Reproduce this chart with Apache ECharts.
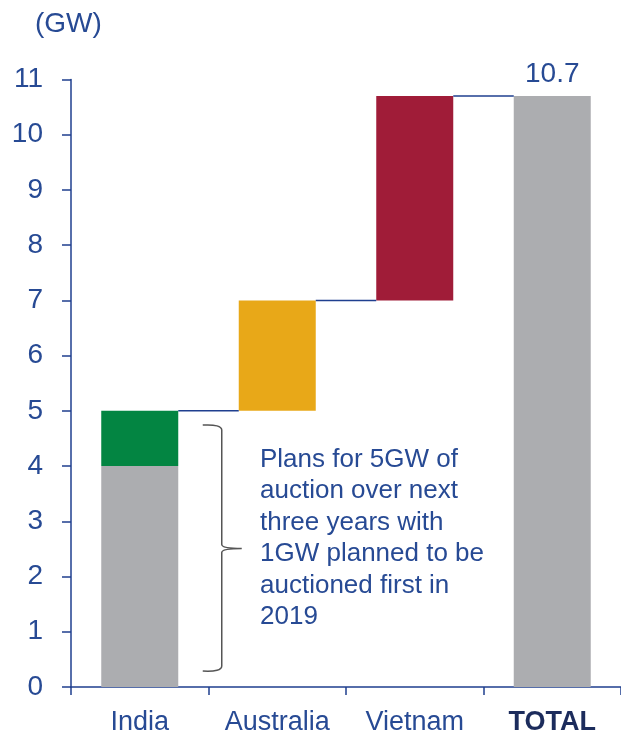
<!DOCTYPE html>
<html>
<head>
<meta charset="utf-8">
<script src="https://cdn.jsdelivr.net/npm/echarts@6/dist/echarts.min.js"></script>
<style>
  html, body { margin: 0; padding: 0; background: #fff; }
  #chart { width: 621px; height: 738px; }
</style>
</head>
<body>
<div id="chart"></div>
<script>
// 数据
const categories = ['India', 'Australia', 'Vietnam', 'TOTAL'];
const baseValues = [0, 5, 7, 0];          // invisible offset
const grayValues = [4, '-', '-', 10.7];   // existing / total
const stepValues = [1, 2, 3.7, '-'];      // increments
const stepColors = ['#038542', '#e8a818', '#a01c38'];
const connectors = [[0, 5], [1, 7], [2, 10.7]];
const totalLabel = '10.7';
const yTicks = { min: 0, max: 11, interval: 1 };
const noteText = 'Plans for 5GW of\nauction over next\nthree years with\n1GW planned to be\nauctioned first in\n2019';
const braceRange = [4.76, 2.51, 0.27]; // top, middle, bottom (GW)

const navy = '#1f3f8f';
const textBlue = '#274a94';
const barFrac = 0.56;

const chart = echarts.init(document.getElementById('chart'));

const option = {
  animation: false,
  textStyle: { fontFamily: 'Liberation Sans, Arial, sans-serif' },
  grid: { left: 71, right: -6, top: 79.5, bottom: 51 },
  graphic: [
    {
      type: 'text', left: 35, top: 10,
      style: { text: '(GW)', fontSize: 28, fill: textBlue, fontFamily: 'Liberation Sans, Arial, sans-serif' }
    },
    {
      type: 'text', left: 260, top: 444,
      style: {
        text: noteText, fontSize: 26, lineHeight: 31.5, fill: textBlue,
        fontFamily: 'Liberation Sans, Arial, sans-serif'
      }
    }
  ],
  xAxis: {
    type: 'category',
    data: categories,
    axisLine: { lineStyle: { color: navy, width: 1.5 } },
    axisTick: { show: true, interval: 0, length: 8, lineStyle: { color: navy, width: 1.5 } },
    axisLabel: {
      interval: 0,
      margin: 22,
      fontSize: 27,
      color: textBlue,
      formatter: v => (v === 'TOTAL' ? '{b|' + v + '}' : v),
      rich: { b: { fontSize: 27, fontWeight: 'bold', color: '#1c2c5c' } }
    }
  },
  yAxis: {
    type: 'value',
    min: yTicks.min,
    max: yTicks.max,
    interval: yTicks.interval,
    axisLine: { show: true, lineStyle: { color: navy, width: 1.5 } },
    axisTick: { show: true, length: 9, lineStyle: { color: navy, width: 1.5 } },
    splitLine: { show: false },
    axisLabel: { margin: 28, fontSize: 28, color: textBlue }
  },
  series: [
    {
      name: 'base', type: 'bar', stack: 'w', barWidth: barFrac * 100 + '%',
      itemStyle: { color: 'transparent' },
      data: baseValues
    },
    {
      name: 'gray', type: 'bar', stack: 'w',
      itemStyle: { color: '#acadb0' },
      label: {
        show: true, position: 'top', distance: 8, fontSize: 28, color: textBlue,
        formatter: p => (p.dataIndex === 3 ? totalLabel : '')
      },
      data: grayValues
    },
    {
      name: 'step', type: 'bar', stack: 'w',
      data: stepValues.map((v, i) => ({ value: v, itemStyle: { color: stepColors[i] } }))
    },
    {
      name: 'connectors', type: 'custom', z: 5,
      encode: { x: 0, y: 1 },
      renderItem: (params, api) => {
        const p = api.coord([api.value(0), api.value(1)]);
        const w = api.size([1, 0])[0];
        const half = w * barFrac / 2;
        return {
          type: 'line',
          shape: { x1: p[0] + half, y1: p[1], x2: p[0] + w - half, y2: p[1] },
          style: { stroke: navy, lineWidth: 1.5 }
        };
      },
      data: connectors
    },
    {
      name: 'brace', type: 'custom', z: 5,
      encode: { x: 0, y: 1 },
      renderItem: (params, api) => {
        const top = api.coord([0, braceRange[0]]);
        const mid = api.coord([0, braceRange[1]]);
        const bot = api.coord([0, braceRange[2]]);
        const x0 = top[0] + 63, xv = top[0] + 82, tip = top[0] + 102;
        const t = top[1], m = mid[1], b = bot[1];
        const d = 'M' + x0 + ' ' + (t + 1) + ' Q' + xv + ' ' + t + ' ' + xv + ' ' + (t + 6) +
          ' L' + xv + ' ' + (m - 4) + ' Q' + xv + ' ' + m + ' ' + tip + ' ' + m +
          ' Q' + xv + ' ' + m + ' ' + xv + ' ' + (m + 4) +
          ' L' + xv + ' ' + (b - 6) + ' Q' + xv + ' ' + b + ' ' + x0 + ' ' + (b - 1);
        return {
          type: 'path',
          shape: { pathData: d },
          style: { stroke: '#555', lineWidth: 1.5, fill: null }
        };
      },
      data: [[0, braceRange[1]]]
    }
  ]
};

chart.setOption(option);
</script>
</body>
</html>
